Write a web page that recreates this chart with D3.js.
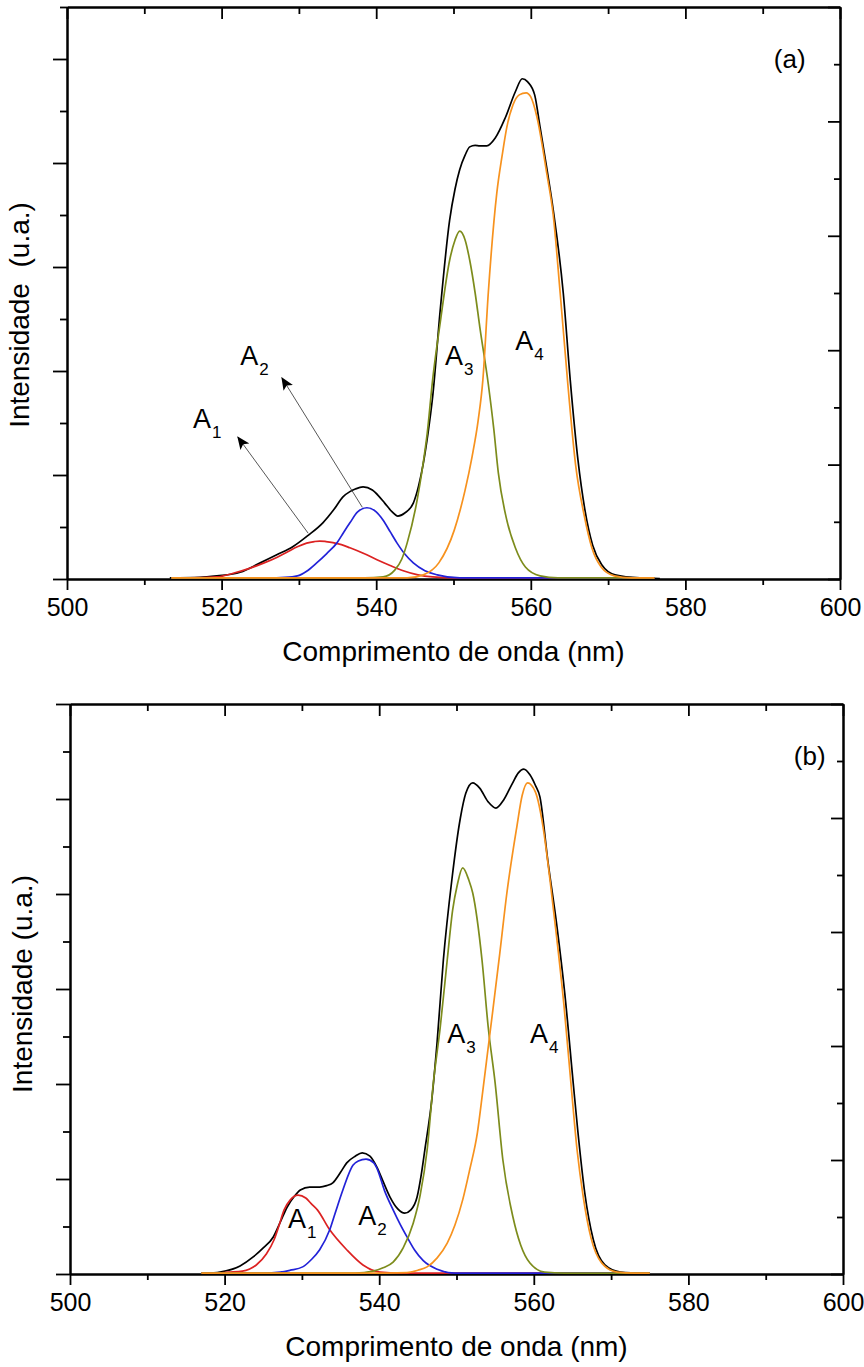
<!DOCTYPE html>
<html>
<head>
<meta charset="utf-8">
<script src="https://cdn.jsdelivr.net/npm/d3@7"></script>
<style>
  body { margin: 0; background: #fff; }
  svg { display: block; }
  text { font-family: "Liberation Sans", Arial, sans-serif; fill: #000; }
</style>
</head>
<body>
<svg id="chart" width="864" height="1367"></svg>
<script>
/* ----------  DATA (wavelength nm, intensity a.u.)  ---------- */
const xTicksMajor = [500, 520, 540, 560, 580, 600]
const xTicksMinor = [510, 530, 550, 570, 590]

// panel (a)
const totalA = [[513.3,0.002],[517.2,0.003],[519.4,0.006],[522.4,0.013],[525.0,0.031],[527.2,0.047],[529.2,0.062],[531.2,0.084],[533.1,0.108],[534.5,0.133],[535.7,0.158],[536.6,0.168],[537.3,0.173],[538.3,0.177],[539.5,0.171],[540.3,0.160],[541.1,0.146],[542.0,0.130],[542.8,0.121],[543.7,0.127],[544.8,0.146],[545.5,0.180],[546.1,0.223],[546.7,0.280],[547.3,0.350],[548.3,0.520],[549.5,0.690],[550.2,0.750],[550.8,0.787],[551.5,0.815],[552.1,0.831],[552.8,0.834],[553.4,0.833],[554.3,0.833],[555.4,0.848],[556.7,0.887],[558.0,0.937],[558.9,0.962],[559.6,0.956],[560.5,0.931],[561.2,0.869],[562.1,0.787],[562.9,0.710],[564.2,0.550],[565.1,0.383],[566.1,0.229],[567.0,0.133],[568.0,0.065],[569.2,0.027],[570.9,0.008],[574.1,0.002],[576.7,0.001]]
const redA = [[513.5,0.002],[515.9,0.002],[519.4,0.004],[521.5,0.011],[523.7,0.021],[525.5,0.031],[527.2,0.042],[528.5,0.052],[529.8,0.062],[531.0,0.069],[532.0,0.072],[532.7,0.073],[533.5,0.072],[534.4,0.070],[535.5,0.066],[536.6,0.060],[538.4,0.049],[540.1,0.037],[541.8,0.026],[543.5,0.016],[545.4,0.008],[547.3,0.004],[550.2,0.002],[576,0.002]]
const blueA = [[513.5,0.002],[526,0.002],[528.2,0.003],[529.8,0.006],[531.0,0.015],[532.3,0.031],[533.6,0.049],[534.9,0.069],[535.8,0.090],[536.6,0.108],[537.6,0.129],[538.8,0.137],[540.0,0.129],[540.9,0.113],[541.8,0.091],[542.7,0.069],[543.7,0.048],[544.8,0.031],[546.3,0.016],[547.9,0.008],[550.8,0.002],[576,0.002]]
const oliveA = [[513.5,0.002],[538.5,0.002],[540.9,0.004],[542.4,0.017],[543.3,0.038],[544.0,0.069],[545.3,0.152],[546.0,0.215],[546.6,0.280],[547.3,0.383],[548.3,0.495],[549.5,0.613],[550.2,0.652],[550.8,0.669],[551.5,0.652],[552.1,0.613],[552.8,0.550],[553.4,0.485],[554.5,0.375],[555.2,0.290],[555.8,0.204],[556.9,0.113],[558.0,0.060],[559.3,0.023],[561.2,0.006],[563.5,0.002],[576,0.002]]
const orangeA = [[513.5,0.002],[544,0.002],[546.1,0.008],[548.1,0.031],[550.1,0.094],[551.5,0.171],[552.4,0.235],[553.2,0.306],[553.8,0.383],[554.5,0.550],[555.6,0.742],[556.3,0.815],[556.9,0.869],[557.7,0.912],[558.5,0.931],[559.4,0.935],[560.0,0.927],[560.8,0.888],[562.1,0.777],[562.9,0.700],[563.8,0.550],[564.8,0.373],[565.8,0.219],[566.9,0.123],[567.9,0.060],[569.1,0.023],[570.8,0.006],[573,0.002],[576,0.002]]

// panel (b)
const totalB = [[517.5,0.001],[519.4,0.004],[522.0,0.017],[523.7,0.036],[525.0,0.055],[526.3,0.078],[527.2,0.109],[528.1,0.141],[529.0,0.163],[529.8,0.177],[531.0,0.183],[532.3,0.183],[533.2,0.186],[534.0,0.192],[535.0,0.214],[535.8,0.234],[536.9,0.248],[537.8,0.255],[538.8,0.248],[539.7,0.225],[540.5,0.195],[541.4,0.162],[542.4,0.137],[543.3,0.128],[544.1,0.135],[544.9,0.162],[545.4,0.205],[545.9,0.261],[546.8,0.366],[547.5,0.490],[548.3,0.661],[549.4,0.830],[550.5,0.960],[551.2,1.012],[552.1,1.034],[553.0,1.023],[554.1,0.994],[555.1,0.981],[556.1,0.998],[557.2,1.032],[558.0,1.055],[558.7,1.063],[559.5,1.051],[560.2,1.029],[560.8,1.004],[561.8,0.872],[563.0,0.731],[564.0,0.592],[565.1,0.402],[565.7,0.300],[566.6,0.170],[567.7,0.072],[569.2,0.019],[571.2,0.004],[574.5,0.001]]
const redB = [[517,0.002],[518.8,0.002],[520.5,0.004],[522.3,0.006],[524.1,0.019],[525.4,0.042],[526.4,0.072],[527.0,0.100],[527.7,0.135],[528.5,0.156],[529.5,0.166],[530.5,0.160],[531.2,0.148],[532.0,0.135],[533.6,0.093],[535.8,0.051],[537.9,0.019],[540.1,0.004],[542.7,0.002],[575,0.002]]
const blueB = [[517,0.002],[525,0.002],[527.2,0.004],[528.5,0.008],[530.1,0.015],[531.2,0.030],[532.3,0.051],[533.6,0.093],[534.3,0.128],[535.3,0.177],[536.6,0.229],[537.3,0.238],[538.3,0.242],[539.3,0.234],[539.7,0.223],[540.7,0.175],[541.8,0.135],[542.7,0.105],[543.6,0.078],[544.6,0.050],[545.7,0.028],[547.5,0.010],[549.8,0.002],[575,0.002]]
const oliveB = [[517,0.002],[536.9,0.002],[539.2,0.006],[540.5,0.013],[541.8,0.025],[543.1,0.055],[544.4,0.107],[545.3,0.166],[546.2,0.261],[547.0,0.402],[547.9,0.520],[548.8,0.661],[549.5,0.766],[550.1,0.819],[550.8,0.855],[551.6,0.829],[552.1,0.802],[553.3,0.661],[554.1,0.520],[555.0,0.402],[556.0,0.240],[557.3,0.120],[558.3,0.061],[559.5,0.023],[561.4,0.004],[564,0.002],[575,0.002]]
const orangeB = [[517,0.002],[541,0.002],[543.6,0.003],[545.0,0.008],[546.2,0.015],[547.5,0.034],[548.8,0.065],[549.8,0.103],[550.8,0.156],[551.7,0.219],[552.7,0.297],[553.4,0.385],[554.2,0.490],[554.7,0.555],[555.6,0.675],[556.5,0.800],[557.8,0.941],[558.5,1.008],[559.2,1.034],[560.2,1.015],[561.2,0.941],[562.1,0.829],[563.0,0.703],[563.9,0.566],[564.8,0.402],[565.6,0.261],[566.4,0.162],[567.4,0.076],[568.8,0.023],[570.8,0.004],[573,0.002],[575,0.002]]

// peak labels: [main, subscript, nm, intensity]
const labelsA = [['A', '1', 516.3, 0.290], ['A', '2', 522.4, 0.412], ['A', '3', 548.9, 0.412], ['A', '4', 558.0, 0.440]]
const labelsB = [['A', '1', 528.2, 0.097], ['A', '2', 537.3, 0.103], ['A', '3', 548.8, 0.486], ['A', '4', 559.5, 0.486]]
// arrows in (a): [fromNm, fromI, toNm, toI]
const arrowsA = [[531.2, 0.088, 522.1, 0.273], [538.2, 0.138, 527.8, 0.387]]

const COLORS = { total: '#000000', red: '#dc2222', blue: '#2222d8', olive: '#7d8c1c', orange: '#f7921e' }

/* ----------  SVG  ---------- */
const svg = d3.select('#chart')

svg.append('defs').append('marker')
  .attr('id', 'arrowHead')
  .attr('markerUnits', 'userSpaceOnUse')
  .attr('markerWidth', 13)
  .attr('markerHeight', 11)
  .attr('refX', 12)
  .attr('refY', 5.5)
  .attr('orient', 'auto')
  .append('path')
  .attr('d', 'M0,0 L13,5.5 L0,11 L3,5.5 Z')
  .attr('fill', '#000')

function drawPanel (p) {
  const x = d3.scaleLinear().domain([500, 600]).range([p.left, p.right])
  const y = d3.scaleLinear().domain([0, p.yMax]).range([p.bottom, p.top])
  const yR = d3.scaleLinear().domain([0, 1]).range([p.bottom, p.top])

  const g = svg.append('g')

  const styleAxis = sel => {
    sel.selectAll('path').attr('stroke', '#000').attr('stroke-width', 2)
    sel.selectAll('line').attr('stroke', '#000').attr('stroke-width', 1.8)
  }

  // left axis: outward ticks, no labels
  const nL = Math.round(p.yMax * 10)
  const leftMajor = d3.range(0, nL + 1, 2).map(i => i / 10)
  const leftMinor = d3.range(1, nL + 1, 2).map(i => i / 10)
  g.append('g').attr('transform', `translate(${p.left},0)`)
    .call(d3.axisLeft(y).tickValues(leftMajor).tickSize(14).tickSizeOuter(0).tickFormat(''))
    .call(styleAxis)
  g.append('g').attr('transform', `translate(${p.left},0)`)
    .call(d3.axisLeft(y).tickValues(leftMinor).tickSize(7).tickSizeOuter(0).tickFormat(''))
    .call(styleAxis)

  // right axis: inward ticks
  const rightMajor = d3.range(0, 11, 2).map(i => i / 10)
  const rightMinor = d3.range(1, 10, 2).map(i => i / 10)
  g.append('g').attr('transform', `translate(${p.right},0)`)
    .call(d3.axisLeft(yR).tickValues(rightMajor).tickSize(12).tickSizeOuter(0).tickFormat(''))
    .call(styleAxis)
  g.append('g').attr('transform', `translate(${p.right},0)`)
    .call(d3.axisLeft(yR).tickValues(rightMinor).tickSize(6).tickSizeOuter(0).tickFormat(''))
    .call(styleAxis)

  // top axis: inward ticks
  g.append('g').attr('transform', `translate(0,${p.top})`)
    .call(d3.axisBottom(x).tickValues(xTicksMajor).tickSize(12).tickSizeOuter(0).tickFormat(''))
    .call(styleAxis)
  g.append('g').attr('transform', `translate(0,${p.top})`)
    .call(d3.axisBottom(x).tickValues(xTicksMinor).tickSize(7).tickSizeOuter(0).tickFormat(''))
    .call(styleAxis)

  // bottom axis with labels
  const bottom = g.append('g').attr('transform', `translate(0,${p.bottom})`)
    .call(d3.axisBottom(x).tickValues(xTicksMajor).tickSize(11).tickSizeOuter(0).tickPadding(8))
    .call(styleAxis)
  bottom.selectAll('text')
    .style('font-size', '25px')
    .style('font-family', '"Liberation Sans", Arial, sans-serif')
    .attr('fill', '#000')
  g.append('g').attr('transform', `translate(0,${p.bottom})`)
    .call(d3.axisBottom(x).tickValues(xTicksMinor).tickSize(6).tickSizeOuter(0).tickFormat(''))
    .call(styleAxis)

  // curves
  const line = d3.line()
    .x(d => x(d[0]))
    .y(d => y(d[1]))
    .curve(d3.curveMonotoneX)

  p.series.forEach(s => {
    g.append('path')
      .datum(s.data)
      .attr('fill', 'none')
      .attr('stroke', s.color)
      .attr('stroke-width', 1.7)
      .attr('stroke-linejoin', 'round')
      .attr('d', line)
  })

  // arrows
  p.arrows.forEach(a => {
    g.append('line')
      .attr('x1', x(a[0])).attr('y1', y(a[1]))
      .attr('x2', x(a[2])).attr('y2', y(a[3]))
      .attr('stroke', '#444')
      .attr('stroke-width', 0.9)
      .attr('marker-end', 'url(#arrowHead)')
  })

  // peak labels
  p.labels.forEach(l => {
    const t = g.append('text')
      .attr('x', x(l[2]))
      .attr('y', y(l[3]))
      .style('font-size', '27px')
    t.append('tspan').text(l[0])
    t.append('tspan').attr('dy', 10).attr('dx', 1).style('font-size', '17px').text(l[1])
  })

  // panel letter
  g.append('text')
    .attr('x', x(p.tag[1]))
    .attr('y', y(p.tag[2]))
    .attr('text-anchor', 'middle')
    .style('font-size', '26px')
    .text(p.tag[0])

  // axis titles
  g.append('text')
    .attr('x', (p.left + p.right) / 2)
    .attr('y', p.bottom + 82)
    .attr('text-anchor', 'middle')
    .style('font-size', '28px')
    .text('Comprimento de onda (nm)')

  g.append('text')
    .attr('transform', `translate(${p.left - 38},${p.yTitleY}) rotate(-90)`)
    .attr('text-anchor', 'middle')
    .style('font-size', '28px')
    .style('white-space', 'pre')
    .text(p.yTitle)
}

drawPanel({
  left: 67, right: 840, top: 7, bottom: 579, yMax: 1.1,
  yTitle: 'Intensidade\u00a0 (u.a.)', yTitleY: 315,
  tag: ['(a)', 593.5, 0.983],
  series: [
    { data: totalA, color: COLORS.total },
    { data: redA, color: COLORS.red },
    { data: blueA, color: COLORS.blue },
    { data: oliveA, color: COLORS.olive },
    { data: orangeA, color: COLORS.orange }
  ],
  labels: labelsA,
  arrows: arrowsA
})

drawPanel({
  left: 70, right: 843, top: 704, bottom: 1274, yMax: 1.2,
  yTitle: 'Intensidade (u.a.)', yTitleY: 984,
  tag: ['(b)', 595.7, 1.072],
  series: [
    { data: totalB, color: COLORS.total },
    { data: redB, color: COLORS.red },
    { data: blueB, color: COLORS.blue },
    { data: oliveB, color: COLORS.olive },
    { data: orangeB, color: COLORS.orange }
  ],
  labels: labelsB,
  arrows: []
})
</script>
</body>
</html>
